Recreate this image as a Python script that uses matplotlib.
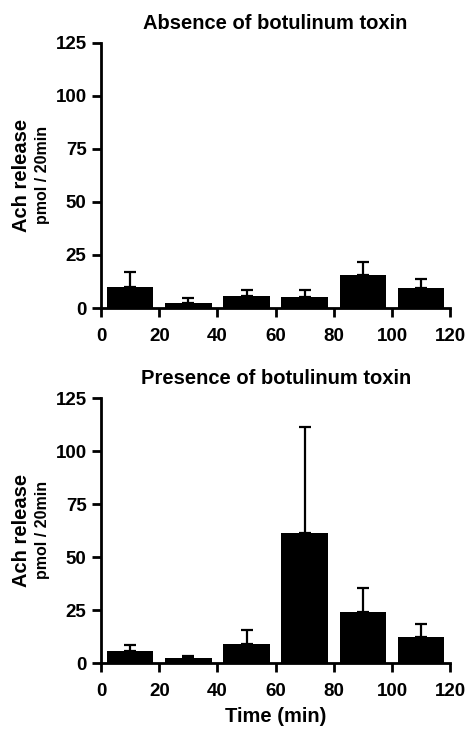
import matplotlib
matplotlib.use('Agg')
import matplotlib.pyplot as plt

plt.rcParams['font.family'] = ['Liberation Sans', 'DejaVu Sans']
plt.rcParams['font.weight'] = 'bold'

# time bins (min) and acetylcholine release (pmol/20min), mean and upper SE
time_mid = [10, 30, 50, 70, 90, 110]
absence_mean = [10, 2.5, 5.5, 5, 15.5, 9.5]
absence_err = [7, 2, 3, 3.5, 6, 4]
presence_mean = [5.5, 2.5, 9, 61.5, 24, 12.5]
presence_err = [3, 1, 6.5, 50, 11.5, 6]
titles = ['Absence of botulinum toxin', 'Presence of botulinum toxin']
xticks = [0, 20, 40, 60, 80, 100, 120]
yticks = [0, 25, 50, 75, 100, 125]

fig = plt.figure(figsize=(4.68, 7.29), dpi=100)
ax1 = fig.add_axes([0.216, 0.5775, 0.746, 0.364])
ax2 = fig.add_axes([0.216, 0.0905, 0.746, 0.3635])

for ax, mean, err, title in [(ax1, absence_mean, absence_err, titles[0]),
                             (ax2, presence_mean, presence_err, titles[1])]:
    ax.bar(time_mid, mean, width=16, color='black', zorder=2)
    ax.errorbar(time_mid, mean, yerr=[[0] * len(err), err], fmt='none',
                ecolor='black', elinewidth=1.6, capsize=4.5, capthick=1.6, zorder=1)
    ax.set_xlim(0, 120)
    ax.set_ylim(0, 125)
    ax.set_xticks(xticks)
    ax.set_yticks(yticks)
    for s in ['top', 'right']:
        ax.spines[s].set_visible(False)
    for s in ['left', 'bottom']:
        ax.spines[s].set_linewidth(2)
    ax.tick_params(width=2, length=6.5, labelsize=13.5, direction='out')
    ax.tick_params(axis='x', pad=8)
    ax.tick_params(axis='y', pad=4)
    for lab in ax.get_xticklabels() + ax.get_yticklabels():
        lab.set_fontweight('bold')
    ax.set_title(title, fontsize=14.5, fontweight='bold', pad=10)

# y labels (two lines, different sizes)
for yc in [0.76, 0.273]:
    fig.text(0.047, yc, 'Ach release', rotation=90, ha='center', va='center',
             fontsize=14.5, fontweight='bold')
    fig.text(0.09, yc, 'pmol / 20min', rotation=90, ha='center', va='center',
             fontsize=11.5, fontweight='bold')

ax2.set_xlabel('Time (min)', fontsize=14.5, fontweight='bold', labelpad=5)

fig.savefig('out.png', dpi=100)
